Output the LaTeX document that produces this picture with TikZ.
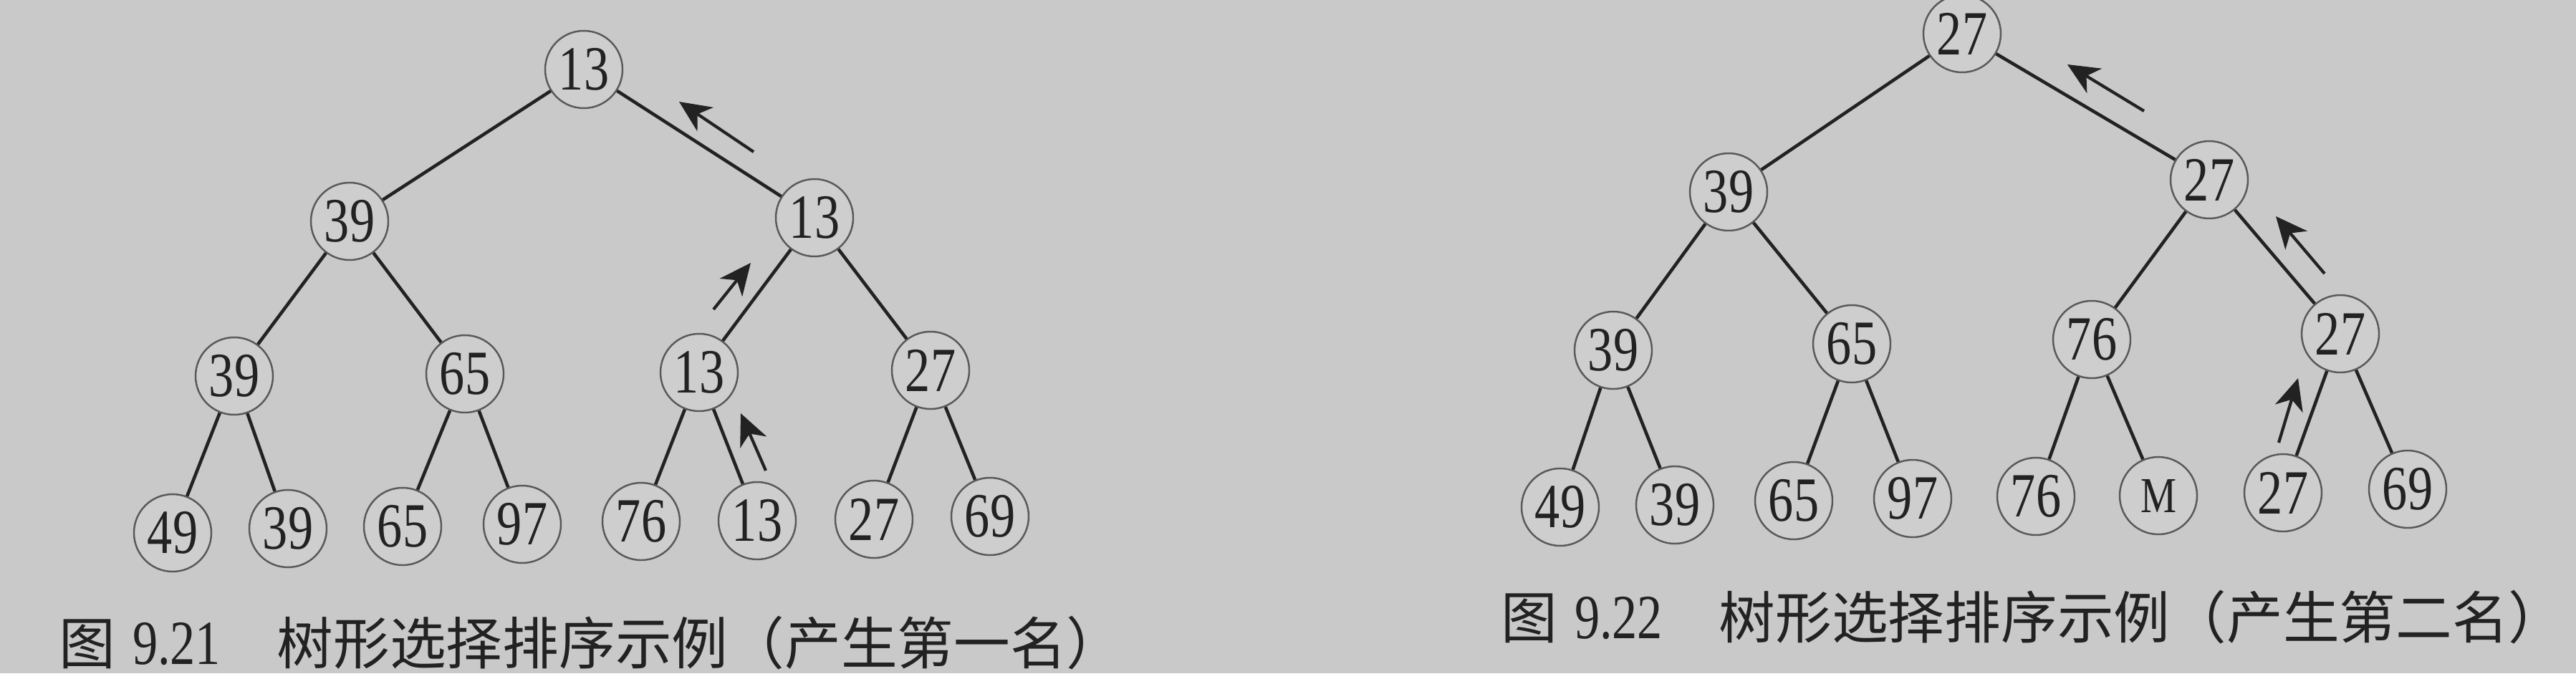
\documentclass[tikz,border=0pt]{standalone}
\usepackage{fontspec}
\usetikzlibrary{arrows.meta}
\newfontfamily\cnfont{Noto Sans CJK SC}
\newfontfamily\digfont[FakeStretch=0.8]{Liberation Serif}
\definecolor{paper}{RGB}{201,201,201}
\definecolor{ink}{RGB}{34,34,34}
\newcommand{\keytext}{\digfont\fontsize{25}{30}\selectfont}
\newcommand{\captext}{\cnfont\fontsize{22.4}{27}\selectfont}

\begin{document}
\begin{tikzpicture}[
		player/.style={circle, draw=ink!75, line width=0.7pt, fill=paper!90!white, minimum size=1.08cm, inner sep=0pt, text=ink, font=\keytext},
		link/.style={draw=ink, line width=1.3pt},
		winner/.style={draw=ink, line width=1.2pt, -{Stealth[length=4.4mm, width=4mm, inset=1.3mm]}}
	]
			\useasboundingbox (0,0) rectangle (35.96,9.40);
			\fill[paper] (0,0) rectangle (35.96,9.40);
			
			\node[player] (l1) at (8.15, 8.43) {13};
			\node[player] (l2) at (4.88, 6.31) {39};
			\node[player] (l3) at (11.37, 6.36) {13};
			\node[player] (l4) at (3.27, 4.15) {39};
			\node[player] (l5) at (6.49, 4.18) {65};
			\node[player] (l6) at (9.76, 4.20) {13};
			\node[player] (l7) at (12.99, 4.23) {27};
			\node[player] (l8) at (2.41, 1.96) {49};
			\node[player] (l9) at (4.02, 2.02) {39};
			\node[player] (l10) at (5.62, 2.05) {65};
			\node[player] (l11) at (7.29, 2.08) {97};
			\node[player] (l12) at (8.95, 2.12) {76};
			\node[player] (l13) at (10.57, 2.13) {13};
			\node[player] (l14) at (12.20, 2.15) {27};
			\node[player] (l15) at (13.82, 2.19) {69};
			
			\draw[link] (l1) -- (l2);
			\draw[link] (l1) -- (l3);
			\draw[link] (l2) -- (l4);
			\draw[link] (l2) -- (l5);
			\draw[link] (l3) -- (l6);
			\draw[link] (l3) -- (l7);
			\draw[link] (l4) -- (l8);
			\draw[link] (l4) -- (l9);
			\draw[link] (l5) -- (l10);
			\draw[link] (l5) -- (l11);
			\draw[link] (l6) -- (l12);
			\draw[link] (l6) -- (l13);
			\draw[link] (l7) -- (l14);
			\draw[link] (l7) -- (l15);
			
			\coordinate (la1) at (10.52, 7.28);
			\coordinate (lb1) at (9.48, 7.98);
			\coordinate (la2) at (9.96, 5.08);
			\coordinate (lb2) at (10.48, 5.73);
			\coordinate (la3) at (10.69, 2.83);
			\coordinate (lb3) at (10.34, 3.63);
			\draw[winner] (la1) -- (lb1);
			\draw[winner] (la2) -- (lb2);
			\draw[winner] (la3) -- (lb3);
			
			\node[player] (r1) at (27.39, 8.93) {27};
			\node[player] (r2) at (24.13, 6.72) {39};
			\node[player] (r3) at (30.84, 6.89) {27};
			\node[player] (r4) at (22.52, 4.51) {39};
			\node[player] (r5) at (25.85, 4.60) {65};
			\node[player] (r6) at (29.20, 4.66) {76};
			\node[player] (r7) at (32.67, 4.74) {27};
			\node[player] (r8) at (21.78, 2.32) {49};
			\node[player] (r9) at (23.38, 2.35) {39};
			\node[player] (r10) at (25.04, 2.41) {65};
			\node[player] (r11) at (26.70, 2.44) {97};
			\node[player] (r12) at (28.42, 2.47) {76};
			\node[player, font=\digfont\fontsize{20}{24}\selectfont] (r13) at (30.13, 2.48) {M};
			\node[player] (r14) at (31.87, 2.52) {27};
			\node[player] (r15) at (33.61, 2.57) {69};
			
			\draw[link] (r1) -- (r2);
			\draw[link] (r1) -- (r3);
			\draw[link] (r2) -- (r4);
			\draw[link] (r2) -- (r5);
			\draw[link] (r3) -- (r6);
			\draw[link] (r3) -- (r7);
			\draw[link] (r4) -- (r8);
			\draw[link] (r4) -- (r9);
			\draw[link] (r5) -- (r10);
			\draw[link] (r5) -- (r11);
			\draw[link] (r6) -- (r12);
			\draw[link] (r6) -- (r13);
			\draw[link] (r7) -- (r14);
			\draw[link] (r7) -- (r15);
			
			\coordinate (ra1) at (29.93, 7.85);
			\coordinate (rb1) at (28.86, 8.50);
			\coordinate (ra2) at (32.45, 5.58);
			\coordinate (rb2) at (31.77, 6.38);
			\coordinate (ra3) at (31.81, 3.22);
			\coordinate (rb3) at (32.08, 4.12);
			\draw[winner] (ra1) -- (rb1);
			\draw[winner] (ra2) -- (rb2);
			\draw[winner] (ra3) -- (rb3);
			
			\node[anchor=west, inner sep=0pt, text=ink, font=\captext] (cap1) at (0.82, 0.42) {图\hspace{0.3em}{\keytext 9.21}\hspace{1em}树形选择排序示例（产生第一名）};
			\node[anchor=west, inner sep=0pt, text=ink, font=\captext] (cap2) at (20.95, 0.78) {图\hspace{0.3em}{\keytext 9.22}\hspace{1em}树形选择排序示例（产生第二名）};
		\end{tikzpicture}
\end{document}
